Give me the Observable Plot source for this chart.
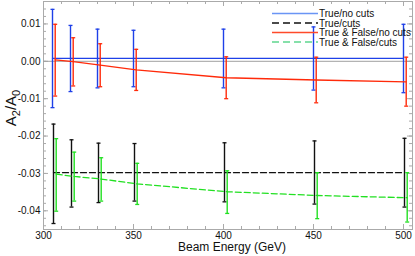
<!DOCTYPE html>
<html>
<head>
<meta charset="utf-8">
<script src="https://cdn.jsdelivr.net/npm/d3@7"></script>
<script src="https://cdn.jsdelivr.net/npm/@observablehq/plot@0.6"></script>
<style>
  html, body { margin: 0; padding: 0; background: #fff; }
  #chart { width: 415px; height: 256px; }
  svg { font-family: "Liberation Sans", Arial, sans-serif; }
</style>
</head>
<body>
<div id="chart"></div>
<script>
// ---- data ----
const energies = [305, 315, 330, 350, 400, 450, 500];

const trueNoCuts    = [0.0008, 0.0008, 0.0008, 0.0008, 0.0008, 0.0008, 0.0008];
const trueNoCutsHi  = [0.0139, 0.0096, 0.0086, 0.0083, 0.0086, 0.0092, 0.0099];
const trueNoCutsLo  = [-0.0124, -0.0081, -0.0071, -0.0068, -0.0071, -0.0077, -0.0084];

const trueCuts      = [-0.0298, -0.0298, -0.0298, -0.0298, -0.0298, -0.0298, -0.0298];
const trueCutsHi    = [-0.0168, -0.0210, -0.0219, -0.0220, -0.0218, -0.0213, -0.0206];
const trueCutsLo    = [-0.0434, -0.0390, -0.0378, -0.0374, -0.0376, -0.0382, -0.0390];

const tfNoCuts      = [0.0004, -0.0001, -0.0010, -0.0023, -0.0044, -0.0050, -0.0055];
const tfNoCutsHi    = [0.0099, 0.0063, 0.0047, 0.0032, 0.0012, 0.0011, 0.0011];
const tfNoCutsLo    = [-0.0093, -0.0066, -0.0068, -0.0078, -0.0100, -0.0111, -0.0120];

const tfCuts        = [-0.0302, -0.0308, -0.0315, -0.0328, -0.0349, -0.0359, -0.0365];
const tfCutsHi      = [-0.0207, -0.0243, -0.0258, -0.0273, -0.0293, -0.0298, -0.0298];
const tfCutsLo      = [-0.0401, -0.0374, -0.0374, -0.0383, -0.0407, -0.0421, -0.0430];

const seriesNames = ["True/no cuts", "True/cuts", "True & False/no cuts", "True & False/cuts"];
const xMajorTicks = [300, 350, 400, 450, 500];
const yMajorTicks = [0.01, 0.00, -0.01, -0.02, -0.03, -0.04];

// ---- styling ----
const W = 415, H = 256;
const margin = {top: 1, right: 3, bottom: 27, left: 43};
const plotH = H - margin.top - margin.bottom;
const plotW = W - margin.left - margin.right;

const series = [
  {name: seriesNames[0], v: trueNoCuts, hi: trueNoCutsHi, lo: trueNoCutsLo, color: "#1e40e8", legend: "#6a95f5", dash: null, dx: 0},
  {name: seriesNames[1], v: trueCuts,   hi: trueCutsHi,   lo: trueCutsLo,   color: "#111111", legend: "#111111", dash: "6,3", dx: 1},
  {name: seriesNames[2], v: tfNoCuts,   hi: tfNoCutsHi,   lo: tfNoCutsLo,   color: "#ff2a0a", legend: "#ff4a2a", dash: null, dx: 2.7},
  {name: seriesNames[3], v: tfCuts,     hi: tfCutsHi,     lo: tfCutsLo,     color: "#22e022", legend: "#5fd68f", dash: "6,3", dx: 3.7}
];

const capSymbol = {
  draw(ctx, size) {
    const r = Math.sqrt(size / Math.PI);
    ctx.moveTo(-r, 0);
    ctx.lineTo(r, 0);
  }
};

const xMinor = d3.range(300, 506, 10);
const yMinor = d3.range(-44, 17, 2).map(d => d / 1000);
const fmtY = d => d3.format(".2f")(d).replace("\u2212", "-");

const marks = [
  Plot.frame({stroke: "#aaaaaa"}),
  // inward ticks on all four sides
  Plot.ruleX(xMinor, {stroke: "#aaaaaa", insetTop: plotH - 3}),
  Plot.ruleX(xMinor, {stroke: "#aaaaaa", insetBottom: plotH - 3}),
  Plot.ruleX(xMajorTicks, {stroke: "#aaaaaa", insetTop: plotH - 5}),
  Plot.ruleX(xMajorTicks, {stroke: "#aaaaaa", insetBottom: plotH - 5}),
  Plot.ruleY(yMinor, {stroke: "#aaaaaa", insetRight: plotW - 3}),
  Plot.ruleY(yMinor, {stroke: "#aaaaaa", insetLeft: plotW - 3}),
  Plot.ruleY(yMajorTicks, {stroke: "#aaaaaa", insetRight: plotW - 5}),
  Plot.ruleY(yMajorTicks, {stroke: "#aaaaaa", insetLeft: plotW - 5}),
  Plot.ruleY([0], {stroke: "#a0a0a0", strokeWidth: 1}),
  Plot.axisX({ticks: xMajorTicks, tickSize: 0, tickPadding: 2, fontSize: 10, label: null, tickFormat: d => String(d)}),
  Plot.axisY({ticks: yMajorTicks, tickSize: 0, tickPadding: 3, fontSize: 10, label: null, tickFormat: fmtY}),
  Plot.text(["Beam Energy (GeV)"], {frameAnchor: "bottom", lineAnchor: "middle", dy: 18, dx: 4, fontSize: 12, fill: "#111"})
];

for (const s of series) {
  const rows = energies.map((e, i) => ({e, v: s.v[i], hi: s.hi[i], lo: s.lo[i]}));
  marks.push(
    Plot.line(rows, {x: "e", y: "v", stroke: s.color, strokeWidth: 1.3, strokeDasharray: s.dash, dx: s.dx}),
    Plot.ruleX(rows, {x: "e", y1: "lo", y2: "hi", stroke: s.color, strokeWidth: 1.4, dx: s.dx}),
    Plot.dot(rows, {x: "e", y: "hi", symbol: capSymbol, r: 2, stroke: s.color, strokeWidth: 1.3, dx: s.dx}),
    Plot.dot(rows, {x: "e", y: "lo", symbol: capSymbol, r: 2, stroke: s.color, strokeWidth: 1.3, dx: s.dx})
  );
}

const chart = Plot.plot({
  width: W,
  height: H,
  marginTop: margin.top,
  marginRight: margin.right,
  marginBottom: margin.bottom,
  marginLeft: margin.left,
  style: {fontFamily: "'Liberation Sans', Arial, sans-serif", background: "#fff", color: "#111"},
  x: {domain: [300, 505]},
  y: {domain: [-0.045, 0.016]},
  marks
});

const svg = d3.select(chart);

// y-axis title with real subscripts
const yt = svg.append("text")
  .attr("transform", "translate(16,108) rotate(-90)")
  .attr("text-anchor", "middle")
  .attr("font-size", 15)
  .attr("fill", "#111");
yt.append("tspan").text("A");
yt.append("tspan").attr("font-size", 11).attr("dy", 4).text("2");
yt.append("tspan").attr("dy", -4).text("/A");
yt.append("tspan").attr("font-size", 11).attr("dy", 4).text("0");

// legend inside the frame, top right
const lg = svg.append("g")
  .attr("font-family", "'Liberation Sans', Arial, sans-serif")
  .attr("font-size", 10)
  .attr("text-anchor", "start");
const rowY = [13.5, 23, 32.5, 42];
series.forEach((s, i) => {
  lg.append("line")
    .attr("x1", 272).attr("x2", 318)
    .attr("y1", rowY[i]).attr("y2", rowY[i])
    .attr("stroke", s.legend).attr("stroke-width", 1.5)
    .attr("stroke-dasharray", s.dash ? "7,4" : null);
  lg.append("text")
    .attr("x", 319).attr("y", rowY[i]).attr("dy", "0.35em")
    .attr("fill", "#111")
    .text(s.name);
});

document.getElementById("chart").appendChild(chart);
</script>
</body>
</html>
